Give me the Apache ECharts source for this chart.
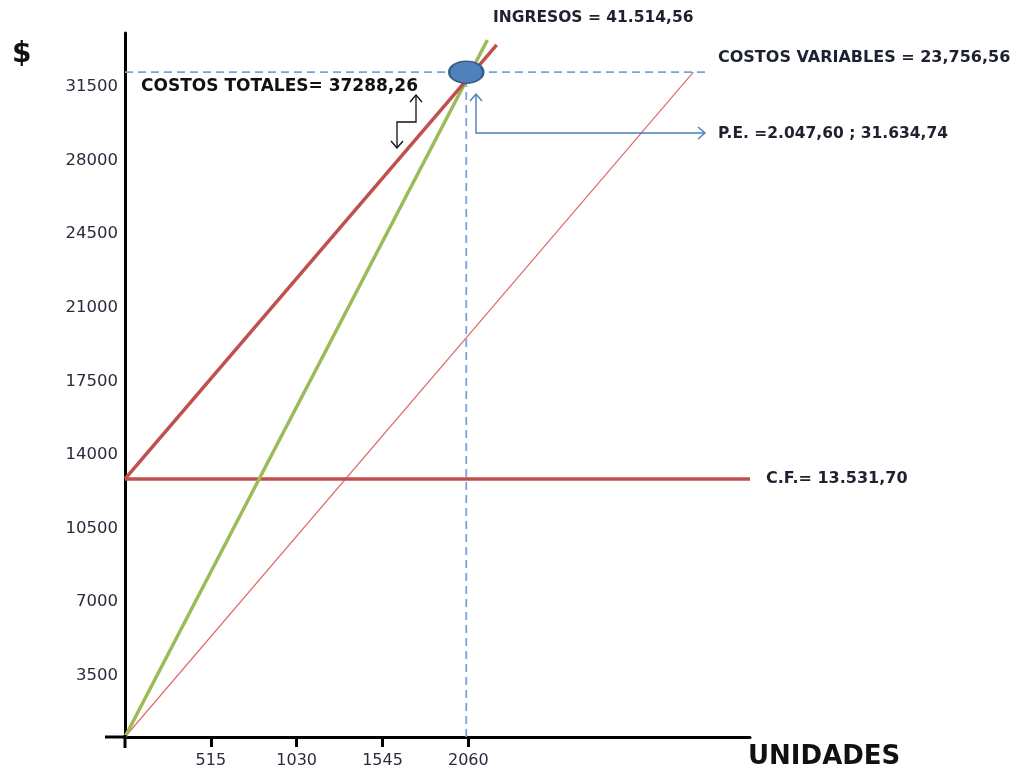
<!DOCTYPE html>
<html><head><meta charset="utf-8">
<script src="https://cdn.jsdelivr.net/npm/echarts@6/dist/echarts.min.js"></script>
<style>html,body{margin:0;padding:0;background:#fff}#c{width:1017px;height:771px}</style>
</head><body><div id="c"></div>
<script>
// ---- data ----
const unitTicks = [515, 1030, 1545, 2060];
const yInterval = 3500;
const ingresos = [[0, 0], [2174, 33170]];
const costosTotales = [[0, 12280], [2230, 32930]];
const costosVariables = [[0, 0], [3410, 31635]];
const costosFijos = [[0, 12280], [3750, 12280]];
const puntoEquilibrio = [[2047.6, 31634.74]];
const guiaHorizontal = [[0, 31634.74], [3480, 31634.74]];
const guiaVertical = [[2047.6, 0], [2047.6, 31634.74]];

const labelIngresos = 'INGRESOS = 41.514,56';
const labelVariables = 'COSTOS VARIABLES = 23,756,56';
const labelPE = 'P.E. =2.047,60 ; 31.634,74';
const labelCF = 'C.F.= 13.531,70';
const labelTotales = 'COSTOS TOTALES= 37288,26';

const chart = echarts.init(document.getElementById('c'), null, {renderer: 'canvas'});
const txtColor = '#1e2230';
const FONT = '"DejaVu Sans", sans-serif';

function txt(x, y, s, size, color, weight) {
  return {type: 'text', x: x, y: y, z: 50,
    style: {text: s, fill: color || txtColor, font: (weight || 'bold') + ' ' + size + 'px ' + FONT,
      textAlign: 'left', textVerticalAlign: 'middle'}};
}
function pl(points, color, w) {
  return {type: 'polyline', z: 50, shape: {points: points},
    style: {stroke: color, lineWidth: w, fill: null}};
}

const blue = '#4a7ebb';
const graphics = [
  txt(12, 55, '$', 28, '#111'),
  txt(493, 18, labelIngresos, 15.5),
  txt(718, 58, labelVariables, 16),
  txt(718, 134, labelPE, 15.5),
  txt(766, 479, labelCF, 16),
  txt(141, 87, labelTotales, 17, '#111'),
  // axis extensions
  {type: 'line', z: 40, shape: {x1: 105, y1: 737, x2: 126, y2: 737}, style: {stroke: '#000', lineWidth: 3}},
  {type: 'line', z: 40, shape: {x1: 125, y1: 735, x2: 125, y2: 748}, style: {stroke: '#000', lineWidth: 3}},
  // black zig-zag arrow
  pl([[397, 148], [397, 122], [416, 122], [416, 95]], '#111', 1.3),
  pl([[391, 141], [397, 148], [403, 141]], '#111', 1.3),
  pl([[410, 102], [416, 95], [422, 102]], '#111', 1.3),
  // blue connector arrow
  pl([[476, 94], [476, 133], [705, 133]], blue, 1.4),
  pl([[470, 101], [476, 94], [482, 101]], blue, 1.4),
  pl([[698, 127], [705, 133], [698, 139]], blue, 1.4)
];

function lineSeries(name, data, color, width, z, dashed) {
  return {name: name, type: 'line', data: data, showSymbol: false, silent: true, z: z,
    lineStyle: {color: color, width: width, type: dashed ? [8, 5] : 'solid'}};
}

chart.setOption({
  animation: false,
  backgroundColor: '#fff',
  grid: {left: 125, right: 267, top: 33, bottom: 34, containLabel: false, outerBoundsMode: 'none'},
  xAxis: {
    type: 'value', min: 0, max: 3750,
    name: 'UNIDADES', nameLocation: 'end', nameGap: -2,
    nameTextStyle: {fontFamily: FONT, fontWeight: 'bold', fontSize: 26, color: '#111',
      align: 'left', verticalAlign: 'top', padding: [7, 0, 0, 0]},
    axisLine: {show: true, onZero: false, lineStyle: {color: '#000', width: 3}},
    axisTick: {show: true, inside: false, length: 10, customValues: unitTicks, lineStyle: {color: '#000', width: 3}},
    axisLabel: {customValues: unitTicks, margin: 16, fontFamily: FONT, fontSize: 16, color: '#2a2c3c',
      formatter: v => String(v)},
    splitLine: {show: false}
  },
  yAxis: {
    type: 'value', min: 0, max: 33500, interval: yInterval,
    axisLine: {show: true, onZero: false, lineStyle: {color: '#000', width: 3}},
    axisTick: {show: false},
    axisLabel: {showMinLabel: false, showMaxLabel: false, margin: 7, fontFamily: FONT, fontSize: 16.5,
      color: '#2a2c3c', verticalAlign: 'top', lineHeight: 24, formatter: v => String(v)},
    splitLine: {show: false}
  },
  series: [
    lineSeries('guia-h', guiaHorizontal, '#7ba3d8', 1.8, 1, true),
    lineSeries('guia-v', guiaVertical, '#7ba3d8', 1.8, 1, true),
    lineSeries('Costos variables', costosVariables, '#e06c6a', 1.2, 2),
    lineSeries('Costos fijos', costosFijos, '#c0504d', 3.5, 3),
    lineSeries('Ingresos', ingresos, '#9bbb59', 3.5, 3),
    lineSeries('Costos totales', costosTotales, '#c0504d', 3.5, 4),
    {name: 'P.E.', type: 'scatter', data: puntoEquilibrio, z: 10, silent: true,
      symbol: 'circle', symbolSize: [34, 22],
      itemStyle: {color: '#4f81bd', borderColor: '#385d8a', borderWidth: 2, opacity: 1}}
  ],
  graphic: graphics
});
</script></body></html>
